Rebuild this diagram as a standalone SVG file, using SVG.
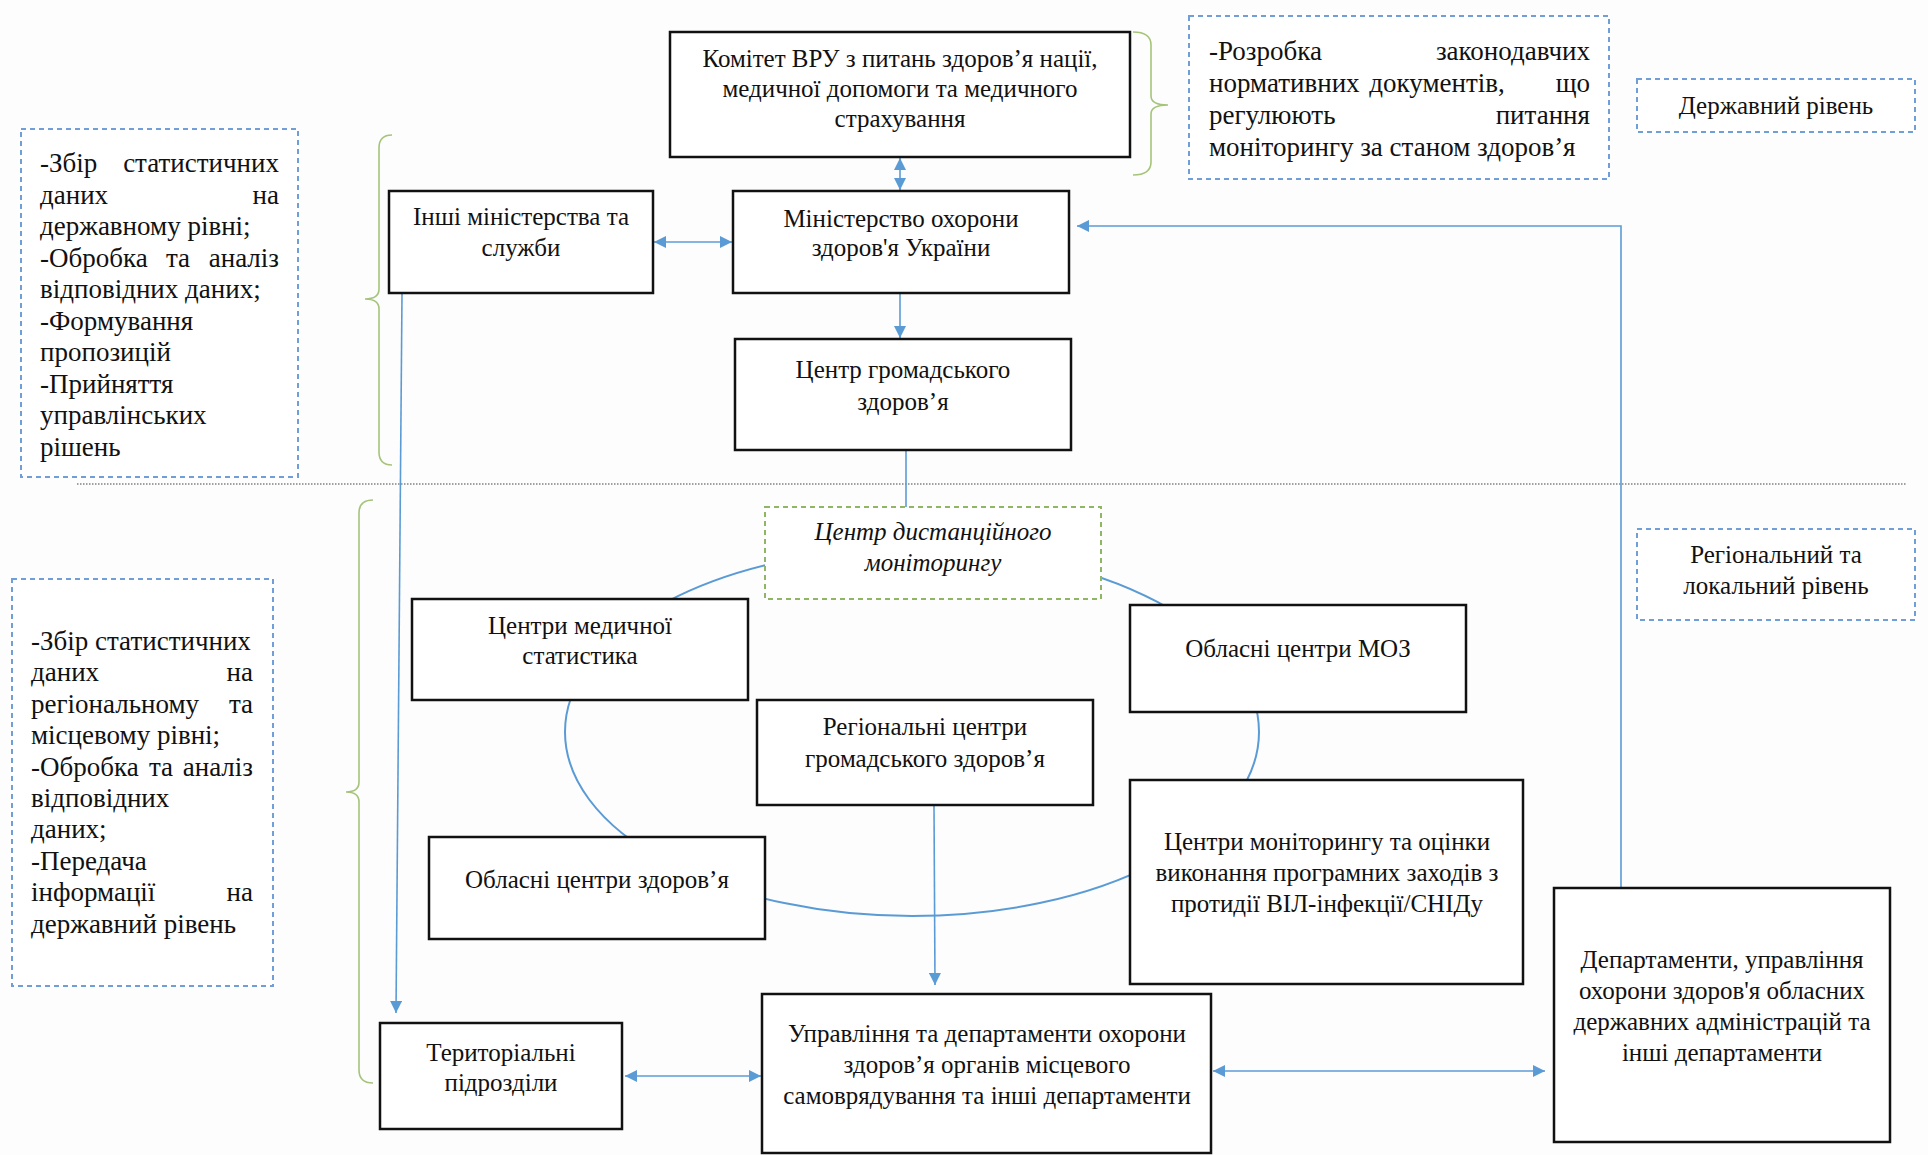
<svg xmlns="http://www.w3.org/2000/svg" width="1928" height="1155" viewBox="0 0 1928 1155">
<defs>
<style>
.bg{fill:#fdfdfd}
.box{fill:#fff;stroke:#111;stroke-width:2.5}
.note{fill:#fff;stroke:#6f9fd6;stroke-width:2;stroke-dasharray:5 4}
.gnote{fill:#fff;stroke:#8fb665;stroke-width:2;stroke-dasharray:5 4}
.brace{fill:none;stroke:#a5c47a;stroke-width:1.6}
.con{fill:none;stroke:#5b9bd5;stroke-width:1.6}
.curve{fill:none;stroke:#5b9bd5;stroke-width:2}
.sep{stroke:#444;stroke-width:1.2;stroke-dasharray:1.5 1.5}
text{font-family:"Liberation Serif","Times New Roman",serif;fill:#111}
.t{font-size:25px;text-anchor:middle}
.n{font-size:27px}
.e{text-anchor:end}
.m{text-anchor:middle}
.i{font-style:italic}
</style>
<marker id="ah" viewBox="0 0 10 10" refX="10" refY="5" markerWidth="12" markerHeight="12" markerUnits="userSpaceOnUse" orient="auto-start-reverse">
<path d="M0,0 L10,5 L0,10 z" fill="#5b9bd5"/>
</marker>
</defs>
<rect class="bg" x="0" y="0" width="1928" height="1155"/>

<!-- separator -->
<line class="sep" x1="77" y1="484" x2="1906" y2="484"/>

<g id="connectors">
<ellipse class="curve" cx="912" cy="732" rx="347" ry="184"/>
<line class="con" x1="900" y1="158" x2="900" y2="190" marker-start="url(#ah)" marker-end="url(#ah)"/>
<line class="con" x1="654" y1="242" x2="732" y2="242" marker-start="url(#ah)" marker-end="url(#ah)"/>
<line class="con" x1="900" y1="294" x2="900" y2="338" marker-end="url(#ah)"/>
<line class="con" x1="906" y1="451" x2="906" y2="507"/>
<polyline class="con" points="1621,888 1621,226 1077,226" marker-end="url(#ah)"/>
<line class="con" x1="402" y1="294" x2="396" y2="1013" marker-end="url(#ah)"/>
<line class="con" x1="934" y1="806" x2="935" y2="985" marker-end="url(#ah)"/>
<line class="con" x1="625" y1="1076" x2="761" y2="1076" marker-start="url(#ah)" marker-end="url(#ah)"/>
<line class="con" x1="1213" y1="1071" x2="1545" y2="1071" marker-start="url(#ah)" marker-end="url(#ah)"/>
</g>

<g id="brace-state">
<path class="brace" d="M392,135 Q379,135 379,148 L379,289 Q379,299 365,299 Q379,299 379,309 L379,452 Q379,465 392,465"/>
</g>
<g id="brace-region">
<path class="brace" d="M373,500 Q359,500 359,513 L359,782 Q359,792 346,792 Q359,792 359,802 L359,1070 Q359,1083 373,1083"/>
</g>
<g id="brace-committee">
<path class="brace" d="M1133,32 Q1151,32 1151,45 L1151,96 Q1151,105 1168,105 Q1151,105 1151,114 L1151,162 Q1151,175 1133,175"/>
</g>

<g id="note-state-tasks">
<rect class="note" x="21" y="129" width="277" height="348"/>
<text class="n" x="40" y="172">-Збір</text><text class="n e" x="279" y="172">статистичних</text>
<text class="n" x="40" y="203.5">даних</text><text class="n e" x="279" y="203.5">на</text>
<text class="n" x="40" y="235">державному рівні;</text>
<text class="n" x="40" y="266.5">-Обробка</text><text class="n m" x="178" y="266.5">та</text><text class="n e" x="279" y="266.5">аналіз</text>
<text class="n" x="40" y="298">відповідних даних;</text>
<text class="n" x="40" y="329.5">-Формування</text>
<text class="n" x="40" y="361">пропозицій</text>
<text class="n" x="40" y="392.5">-Прийняття</text>
<text class="n" x="40" y="424">управлінських</text>
<text class="n" x="40" y="455.5">рішень</text>
</g>

<g id="note-legislation">
<rect class="note" x="1189" y="16" width="420" height="163"/>
<text class="n" x="1209" y="60">-Розробка</text><text class="n e" x="1590" y="60">законодавчих</text>
<text class="n" x="1209" y="92">нормативних</text><text class="n m" x="1437" y="92">документів,</text><text class="n e" x="1590" y="92">що</text>
<text class="n" x="1209" y="124">регулюють</text><text class="n e" x="1590" y="124">питання</text>
<text class="n" x="1209" y="156">моніторингу за станом здоров’я</text>
</g>

<g id="label-state">
<rect class="note" x="1637" y="79" width="278" height="53"/>
<text class="t" x="1776" y="114">Державний рівень</text>
</g>

<g id="label-regional">
<rect class="note" x="1637" y="529" width="278" height="91"/>
<text class="t" x="1776" y="563">Регіональний та</text>
<text class="t" x="1776" y="594">локальний рівень</text>
</g>

<g id="note-regional-tasks">
<rect class="note" x="12" y="579" width="261" height="407"/>
<text class="n" x="31" y="650">-Збір статистичних</text>
<text class="n" x="31" y="681.4">даних</text><text class="n e" x="253" y="681.4">на</text>
<text class="n" x="31" y="712.8">регіональному</text><text class="n e" x="253" y="712.8">та</text>
<text class="n" x="31" y="744.2">місцевому рівні;</text>
<text class="n" x="31" y="775.6">-Обробка</text><text class="n m" x="161" y="775.6">та</text><text class="n e" x="253" y="775.6">аналіз</text>
<text class="n" x="31" y="807">відповідних</text>
<text class="n" x="31" y="838.4">даних;</text>
<text class="n" x="31" y="869.8">-Передача</text>
<text class="n" x="31" y="901.2">інформації</text><text class="n e" x="253" y="901.2">на</text>
<text class="n" x="31" y="932.6">державний рівень</text>
</g>

<g id="committee">
<rect class="box" x="670" y="32" width="460" height="125"/>
<text class="t" x="900" y="67">Комітет ВРУ з питань здоров’я нації,</text>
<text class="t" x="900" y="97">медичної допомоги та медичного</text>
<text class="t" x="900" y="127">страхування</text>
</g>

<g id="other-ministries">
<rect class="box" x="389" y="191" width="264" height="102"/>
<text class="t" x="521" y="225">Інші міністерства та</text>
<text class="t" x="521" y="256">служби</text>
</g>

<g id="moz">
<rect class="box" x="733" y="191" width="336" height="102"/>
<text class="t" x="901" y="227">Міністерство охорони</text>
<text class="t" x="901" y="256">здоров'я України</text>
</g>

<g id="public-health-center">
<rect class="box" x="735" y="339" width="336" height="111"/>
<text class="t" x="903" y="378">Центр громадського</text>
<text class="t" x="903" y="410">здоров’я</text>
</g>

<g id="remote-monitoring">
<rect class="gnote" x="765" y="507" width="336" height="92"/>
<text class="t i" x="933" y="540">Центр дистанційного</text>
<text class="t i" x="933" y="571">моніторингу</text>
</g>

<g id="med-stat">
<rect class="box" x="412" y="599" width="336" height="101"/>
<text class="t" x="580" y="634">Центри медичної</text>
<text class="t" x="580" y="664">статистика</text>
</g>

<g id="oblast-moz">
<rect class="box" x="1130" y="605" width="336" height="107"/>
<text class="t" x="1298" y="657">Обласні центри МОЗ</text>
</g>

<g id="regional-ph">
<rect class="box" x="757" y="700" width="336" height="105"/>
<text class="t" x="925" y="735">Регіональні центри</text>
<text class="t" x="925" y="767">громадського здоров’я</text>
</g>

<g id="oblast-health">
<rect class="box" x="429" y="837" width="336" height="102"/>
<text class="t" x="597" y="888">Обласні центри здоров’я</text>
</g>

<g id="hiv-centers">
<rect class="box" x="1130" y="780" width="393" height="204"/>
<text class="t" x="1327" y="850">Центри моніторингу та оцінки</text>
<text class="t" x="1327" y="881">виконання програмних заходів з</text>
<text class="t" x="1327" y="912">протидії ВІЛ-інфекції/СНІДу</text>
</g>

<g id="oblast-departments">
<rect class="box" x="1554" y="888" width="336" height="254"/>
<text class="t" x="1722" y="968">Департаменти, управління</text>
<text class="t" x="1722" y="999">охорони здоров'я обласних</text>
<text class="t" x="1722" y="1030">державних адміністрацій та</text>
<text class="t" x="1722" y="1061">інші департаменти</text>
</g>

<g id="territorial">
<rect class="box" x="380" y="1023" width="242" height="106"/>
<text class="t" x="501" y="1060.5">Територіальні</text>
<text class="t" x="501" y="1090.5">підрозділи</text>
</g>

<g id="local-departments">
<rect class="box" x="762" y="994" width="449" height="159"/>
<text class="t" x="987" y="1042">Управління та департаменти охорони</text>
<text class="t" x="987" y="1073">здоров’я органів місцевого</text>
<text class="t" x="987" y="1104">самоврядування та інші департаменти</text>
</g>
</svg>
